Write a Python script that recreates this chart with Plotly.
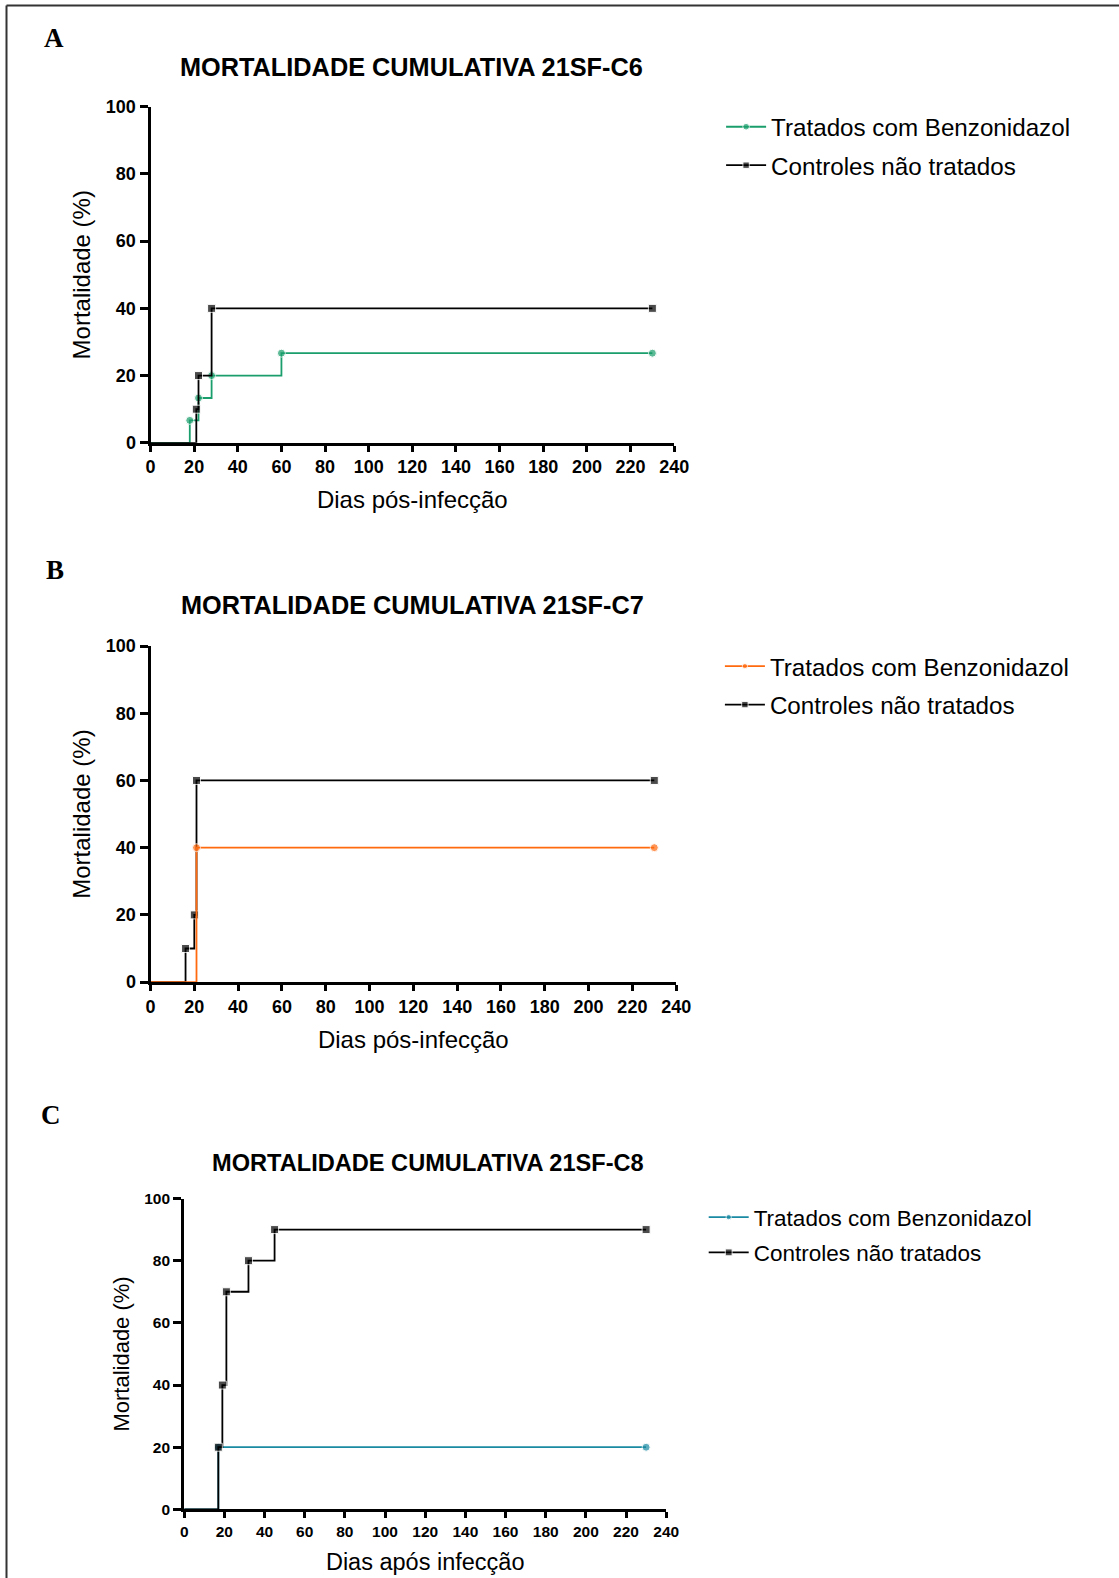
import plotly.graph_objects as go

# ---------------- data ----------------
series_names = ["Tratados com Benzonidazol", "Controles não tratados"]

# Panel A (21SF-C6)
a_treat_x = [0, 18, 22, 28, 60, 230]
a_treat_y = [0, 6.67, 13.33, 20, 26.67, 26.67]
a_ctrl_x = [0, 21, 22, 28, 230]
a_ctrl_y = [0, 10, 20, 40, 40]

# Panel B (21SF-C7)
b_treat_x = [0, 21, 230]
b_treat_y = [0, 40, 40]
b_ctrl_x = [0, 16, 20, 21, 230]
b_ctrl_y = [0, 10, 20, 60, 60]

# Panel C (21SF-C8)
c_treat_x = [0, 17, 230]
c_treat_y = [0, 20, 20]
c_ctrl_x = [0, 17, 19, 21, 32, 45, 230]
c_ctrl_y = [0, 20, 40, 70, 80, 90, 90]

panel_titles = ["MORTALIDADE CUMULATIVA 21SF-C6",
                "MORTALIDADE CUMULATIVA 21SF-C7",
                "MORTALIDADE CUMULATIVA 21SF-C8"]
panel_letters = ["A", "B", "C"]
x_titles = ["Dias pós-infecção", "Dias pós-infecção", "Dias após infecção"]
y_title = "Mortalidade (%)"
x_ticks = [0, 20, 40, 60, 80, 100, 120, 140, 160, 180, 200, 220, 240]
y_ticks = [0, 20, 40, 60, 80, 100]

# ---------------- layout constants ----------------
W, H = 1119, 1578
SANS = "Liberation Sans, Arial, sans-serif"
SERIF = "Liberation Serif, Times New Roman, serif"
GREEN = "#1a9e6c"
ORANGE = "#ff6a0f"
TEAL = "#1a8aa3"


def px_x(t):
    return t / W


def px_y(t):
    return 1 - t / H


fig = go.Figure()


def sizes(n, s):
    return [0] + [s] * (n - 1)


def add_pair(tx, ty, cx, cy, color, xa, ya, leg, treat_first=True):
    t = go.Scatter(x=tx, y=ty, mode="lines+markers", line_shape="hv",
                   name=series_names[0], legend=leg, legendgroup=leg + "t",
                   legendrank=1,
                   line=dict(color=color, width=1.8),
                   marker=dict(symbol="circle", color=color, size=sizes(len(tx), 8)),
                   xaxis=xa, yaxis=ya, cliponaxis=False)
    c = go.Scatter(x=cx, y=cy, mode="lines+markers", line_shape="hv",
                   name=series_names[1], legend=leg, legendgroup=leg + "c",
                   legendrank=2,
                   line=dict(color="#000000", width=1.8),
                   marker=dict(symbol="square", color="#000000", size=sizes(len(cx), 8)),
                   xaxis=xa, yaxis=ya, cliponaxis=False)
    if treat_first:
        fig.add_trace(t)
        fig.add_trace(c)
    else:
        fig.add_trace(c)
        fig.add_trace(t)


add_pair(a_treat_x, a_treat_y, a_ctrl_x, a_ctrl_y, GREEN, "x", "y", "legend")
add_pair(b_treat_x, b_treat_y, b_ctrl_x, b_ctrl_y, ORANGE, "x2", "y2", "legend2", treat_first=False)
add_pair(c_treat_x, c_treat_y, c_ctrl_x, c_ctrl_y, TEAL, "x3", "y3", "legend3")

# panel geometry in pixels: (x0, x1, ytop, ybottom)
geo = [(150.5, 674.2, 106.7, 442.8), (150.5, 676.2, 646, 982.1), (184.2, 666.2, 1198.5, 1509.4)]
tick_font_sizes = [18, 18, 15.5]
xtitle_sizes = [24, 24, 23.5]
ytitle_sizes = [24, 24, 22]
xtitle_standoff = [15, 16, 15]
ytitle_standoff = [9, 9, 9]


def axis_common(fs, tl):
    return dict(showline=True, linecolor="#000000", linewidth=3,
                ticks="outside", ticklen=tl, tickwidth=3, tickcolor="#000000",
                showgrid=False, zeroline=False, mirror=False, automargin=False,
                tickfont=dict(family=SANS, size=fs, color="#000000", weight="bold"))


layout_axes = {}
for i, (x0, x1, yt, yb) in enumerate(geo):
    sfx = "" if i == 0 else str(i + 1)
    xa = axis_common(tick_font_sizes[i], 6)
    xa.update(domain=[px_x(x0), px_x(x1)], range=[0, 240], tickvals=x_ticks,
              anchor="y" + sfx,
              title=dict(text=x_titles[i], standoff=xtitle_standoff[i],
                         font=dict(family=SANS, size=xtitle_sizes[i], color="#000000")))
    ya = axis_common(tick_font_sizes[i], 8)
    ya.update(domain=[px_y(yb), px_y(yt)], range=[0, 100], tickvals=y_ticks,
              anchor="x" + sfx,
              title=dict(text=y_title, standoff=ytitle_standoff[i],
                         font=dict(family=SANS, size=ytitle_sizes[i], color="#000000")))
    layout_axes["xaxis" + sfx] = xa
    layout_axes["yaxis" + sfx] = ya

annotations = []
title_pos = [(411.1, 66.6, 25.3), (412.6, 605.0, 25.3), (428.2, 1163.0, 23.6)]
letter_pos = [(54.3, 37.7), (55.3, 569.6), (51.3, 1114.5)]
for i in range(3):
    tx, ty, fs = title_pos[i]
    annotations.append(dict(text=panel_titles[i], x=px_x(tx), y=px_y(ty),
                            xref="paper", yref="paper", xanchor="center", yanchor="middle",
                            showarrow=False,
                            font=dict(family=SANS, size=fs, color="#000000", weight="bold")))
    lx, ly = letter_pos[i]
    annotations.append(dict(text=panel_letters[i], x=px_x(lx), y=px_y(ly),
                            xref="paper", yref="paper", xanchor="center", yanchor="middle",
                            showarrow=False,
                            font=dict(family=SERIF, size=27, color="#000000", weight="bold")))

# (x of legend box, top of legend box, font size, group gap) in pixels
legend_pos = [(721.1, 104.5, 24.2, 4), (719.9, 643.9, 24.2, 4), (703.7, 1196, 22.5, 3)]
legends = {}
for i, key in enumerate(["legend", "legend2", "legend3"]):
    lx, ly, fs, gap = legend_pos[i]
    legends[key] = dict(x=px_x(lx), y=px_y(ly), xanchor="left", yanchor="top",
                        bgcolor="rgba(0,0,0,0)", borderwidth=0, itemwidth=40,
                        traceorder="grouped", tracegroupgap=gap,
                        font=dict(family=SANS, size=fs, color="#000000"))

frame_left = dict(type="line", xref="paper", yref="paper",
                  x0=px_x(6.5), x1=px_x(6.5), y0=-0.05, y1=px_y(5.5),
                  line=dict(color="#333333", width=2))
frame_top = dict(type="line", xref="paper", yref="paper",
                 x0=px_x(6.5), x1=1.05, y0=px_y(5.5), y1=px_y(5.5),
                 line=dict(color="#333333", width=2))

fig.update_layout(width=W, height=H, margin=dict(l=0, r=0, t=0, b=0, autoexpand=False),
                  paper_bgcolor="#ffffff", plot_bgcolor="#ffffff",
                  showlegend=True, annotations=annotations,
                  shapes=[frame_left, frame_top],
                  **layout_axes, **legends)

page_fix = ("document.body.style.margin='0px';"
            "document.body.style.padding='0px';"
            "document.documentElement.style.overflow='hidden';"
            "var gd=document.getElementById('{plot_id}');"
            "gd.style.position='absolute';gd.style.left='0px';gd.style.top='0px';")

fig.write_html("out.html", post_script=page_fix,
               config={"displayModeBar": False, "staticPlot": True})
